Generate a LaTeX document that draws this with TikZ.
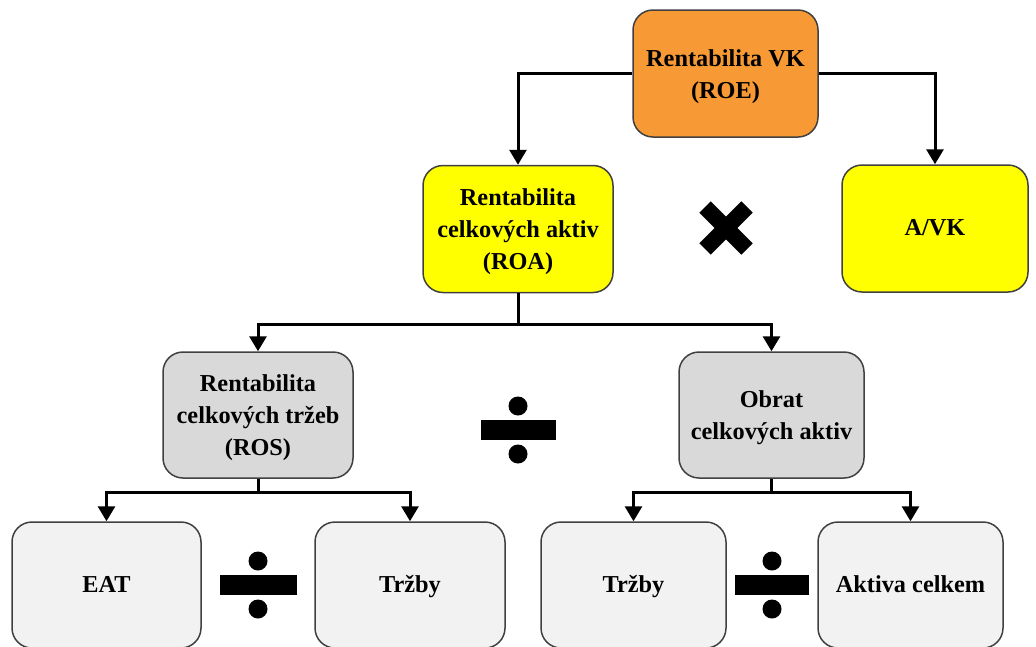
\documentclass[tikz,border=0pt]{standalone}
\usepackage{fontspec}
\setmainfont{Liberation Serif}
\usetikzlibrary{arrows.meta}
\definecolor{roeor}{HTML}{F79A36}
\definecolor{yel}{HTML}{FFFF00}
\definecolor{gmid}{HTML}{D9D9D9}
\definecolor{glight}{HTML}{F2F2F2}
\definecolor{bord}{HTML}{404040}
\newcommand{\topstrut}{\rule{0pt}{23pt}}
\tikzset{
  box/.style={draw=bord, line width=1.5pt, rounded corners=20pt, align=center,
    font=\fontsize{24.3}{32}\selectfont\bfseries, inner sep=0pt},
  oneline/.style={text height=18pt, text depth=4pt},
  arr/.style={line width=3pt, -{Triangle[width=17pt,length=15pt]}},
  plain/.style={line width=3pt},
}
\begin{document}
\begin{tikzpicture}[x=1pt,y=-1pt]
\useasboundingbox (0,0) rectangle (1036,646);
\node[box, fill=roeor, minimum width=185pt, minimum height=127pt] (ROE) at (725.5,73.5) {\topstrut Rentabilita VK\\(ROE)};
\node[box, fill=yel, minimum width=190pt, minimum height=127pt] (ROA) at (518,229) {\topstrut Rentabilita\\celkových aktiv\\(ROA)};
\node[box, oneline, fill=yel, minimum width=186pt, minimum height=127pt] (AVK) at (935,228.5) {A/VK};
\node[box, fill=gmid, minimum width=190pt, minimum height=126pt] (ROS) at (258,415) {\topstrut Rentabilita\\celkových tržeb\\(ROS)};
\node[box, fill=gmid, minimum width=185pt, minimum height=126pt] (OBR) at (771.5,415) {\topstrut Obrat\\celkových aktiv};
\node[box, oneline, fill=glight, minimum width=189pt, minimum height=126pt] (EAT) at (106.5,585) {EAT};
\node[box, oneline, fill=glight, minimum width=190pt, minimum height=126pt] (TR1) at (410,585) {Tržby};
\node[box, oneline, fill=glight, minimum width=185pt, minimum height=126pt] (TR2) at (633.5,585) {Tržby};
\node[box, oneline, fill=glight, minimum width=185pt, minimum height=126pt] (AKT) at (910.5,585) {Aktiva celkem};

\draw[arr] (ROE.west) -| (ROA.north);
\draw[arr] (ROE.east) -| (AVK.north);
\coordinate (j1) at ([yshift=-31pt]ROA.south);
\draw[plain] (ROA.south) -- (j1);
\draw[arr] (j1) -| (ROS.north);
\draw[arr] (j1) -| (OBR.north);
\coordinate (j2) at ([yshift=-14pt]ROS.south);
\draw[plain] (ROS.south) -- (j2);
\draw[arr] (j2) -| (EAT.north);
\draw[arr] (j2) -| (TR1.north);
\coordinate (j3) at ([yshift=-14pt]OBR.south);
\draw[plain] (OBR.south) -- (j3);
\draw[arr] (j3) -| (TR2.north);
\draw[arr] (j3) -| (AKT.north);

% multiplication sign
\coordinate (mul) at (726,228);
\draw[line width=16pt] ([shift={(-21,-21)}]mul) -- ([shift={(21,21)}]mul);
\draw[line width=16pt] ([shift={(-21,21)}]mul) -- ([shift={(21,-21)}]mul);

% division signs
\foreach \cx/\cy/\w in {518/430/75, 258/585/77, 772/585/74}{
  \fill ({\cx-\w/2},{\cy-10}) rectangle ({\cx+\w/2},{\cy+10});
  \fill (\cx,{\cy-24}) circle (9.5);
  \fill (\cx,{\cy+24}) circle (9.5);
}
\end{tikzpicture}
\end{document}
